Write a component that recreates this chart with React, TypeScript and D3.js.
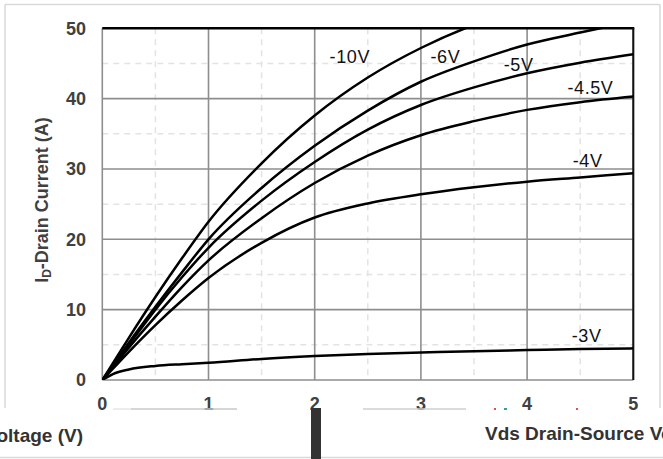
import React from "react";
import * as d3 from "d3";

const vds = [0, 0.1, 0.25, 0.5, 0.75, 1, 1.5, 2, 2.5, 3, 3.5, 4, 4.5, 5];
const id10 = [0, 2.4, 6, 11.8, 17.3, 22.5, 30.8, 37.6, 43, 47.2, 50.5, 53, 55, 57];
const id6 = [0, 2.1, 5.3, 10.4, 15.3, 20, 27.3, 33.3, 38.3, 42.4, 45.3, 47.7, 49.4, 51];
const id5 = [0, 2, 5, 10, 14.6, 18.8, 25.5, 31, 35.6, 39.1, 41.6, 43.6, 45.1, 46.3];
const id45 = [0, 1.85, 4.6, 9, 13.2, 17, 23, 28, 31.9, 34.8, 36.8, 38.4, 39.5, 40.3];
const id4 = [0, 1.6, 4, 7.8, 11.3, 14.5, 19.5, 23.1, 25.1, 26.4, 27.4, 28.2, 28.8, 29.4];
const id3 = [0, 0.85, 1.5, 2.0, 2.25, 2.45, 3.0, 3.4, 3.7, 3.9, 4.1, 4.25, 4.4, 4.5];

const seriesNames = ["-10V", "-6V", "-5V", "-4.5V", "-4V", "-3V"];
const seriesValues = [id10, id6, id5, id45, id4, id3];
const labelVds = [2.14, 3.09, 3.78, 4.38, 4.43, 4.42];
const labelId = [45.0, 45.0, 43.9, 40.7, 30.3, 5.4];

const xTicks = [0, 1, 2, 3, 4, 5];
const yTicks = [0, 10, 20, 30, 40, 50];
const xMinor = [0.5, 1.5, 2.5, 3.5, 4.5];
const yMinor = [5, 15, 25, 35, 45];

export default function App() {
  const W = 663;
  const H = 459;
  const x = d3.scaleLinear().domain([0, 5]).range([102.3, 633.3]);
  const y = d3.scaleLinear().domain([0, 50]).range([380, 28.3]);
  const line = d3
    .line<number>()
    .x((_, i) => x(vds[i]))
    .y((d) => y(d))
    .curve(d3.curveMonotoneX);
  const font = "'Liberation Sans', Arial, Helvetica, sans-serif";
  const labelColor = "#404040";
  const frame = "#d9d9d9";
  return (
    <svg
      width={W}
      height={H}
      style={{ position: "absolute", left: 0, top: 0, background: "#fff" }}
      fontFamily={font}
    >
      <defs>
        <clipPath id="plotClip">
          <rect x={x(0)} y={y(50)} width={x(5) - x(0)} height={y(0) - y(50)} />
        </clipPath>
      </defs>
      {/* outer frame */}
      <line x1={5} x2={660} y1={4.5} y2={4.5} stroke={frame} strokeWidth={1.5} />
      <line x1={5} x2={5} y1={4.5} y2={408} stroke={frame} strokeWidth={1.5} />
      <line x1={660} x2={660} y1={4.5} y2={408} stroke={frame} strokeWidth={1.5} />
      <line x1={0} x2={663} y1={457.5} y2={457.5} stroke="#d9d9d9" strokeWidth={1.5} />
      <rect x={494} y={408} width={2} height={2} fill="#e05050" />
      <rect x={504} y={408} width={3} height={2} fill="#3a9aa0" />
      <rect x={576} y={408} width={2} height={2} fill="#e05050" />

      {/* minor grid */}
      {xMinor.map((v) => (
        <line key={"xm" + v} x1={x(v)} x2={x(v)} y1={y(50)} y2={y(0)} stroke="#e3e3e3" strokeWidth={1.5} strokeDasharray="6,5" />
      ))}
      {yMinor.map((v) => (
        <line key={"ym" + v} x1={x(0)} x2={x(5)} y1={y(v)} y2={y(v)} stroke="#e3e3e3" strokeWidth={1.5} strokeDasharray="6,5" />
      ))}
      {/* major grid */}
      {xTicks.map((v) => (
        <line key={"xg" + v} x1={x(v)} x2={x(v)} y1={y(50)} y2={y(0)} stroke="#8e8e8e" strokeWidth={1.6} />
      ))}
      {yTicks.map((v) => (
        <line key={"yg" + v} x1={x(0)} x2={x(5)} y1={y(v)} y2={y(v)} stroke="#8e8e8e" strokeWidth={1.6} />
      ))}
      {/* borders */}
      <line x1={x(0)} x2={x(5) + 1} y1={y(50)} y2={y(50)} stroke="#000" strokeWidth={2.5} />
      <line x1={x(5)} x2={x(5)} y1={y(50)} y2={y(0)} stroke="#111" strokeWidth={2} />

      {/* curves */}
      <g clipPath="url(#plotClip)">
        {seriesValues.map((vals, i) => (
          <path key={seriesNames[i]} d={line(vals) || ""} fill="none" stroke="#000" strokeWidth={2.5} />
        ))}
      </g>
      {seriesNames.map((n, i) => (
        <text key={"l" + n} x={x(labelVds[i])} y={y(labelId[i])} fontSize={18} fill="#111" letterSpacing={0.6}>
          {n}
        </text>
      ))}

      {/* y tick labels */}
      {yTicks.map((v) => (
        <text key={"yt" + v} x={86} y={y(v)} dy="0.36em" textAnchor="end" fontSize={18} fontWeight="bold" fill={labelColor}>
          {v}
        </text>
      ))}
      {/* x tick labels */}
      {xTicks.map((v) => (
        <text key={"xt" + v} x={x(v)} y={410} textAnchor="middle" fontSize={18} fontWeight="bold" fill={labelColor}>
          {v}
        </text>
      ))}
      {/* light rule fragments under the tick labels */}
      <line x1={113} x2={131} y1={409} y2={409} stroke="#e6e6e6" strokeWidth={1.5} />
      <line x1={131} x2={237} y1={409} y2={409} stroke="#c8c8c8" strokeWidth={1.5} />
      <line x1={363} x2={466} y1={409} y2={409} stroke="#cfcfcf" strokeWidth={1.5} />
      {/* y title */}
      <text transform="translate(47.5,200) rotate(-90)" textAnchor="middle" fontSize={18} fontWeight="bold" fill={labelColor}>
        I<tspan fontSize={12} dy={3.5}>D</tspan>
        <tspan dy={-3.5}>-Drain Current (A)</tspan>
      </text>

      {/* bottom fragments */}
      <rect x={311} y={408} width={10} height={51} fill="#333" />
      <text x={83} y={442} textAnchor="end" fontSize={19} fontWeight="bold" fill="#333">
        oltage (V)
      </text>
      <text x={485} y={440} fontSize={19} fontWeight="bold" fill="#333">
        Vds Drain-Source Voltage (V)
      </text>
    </svg>
  );
}
